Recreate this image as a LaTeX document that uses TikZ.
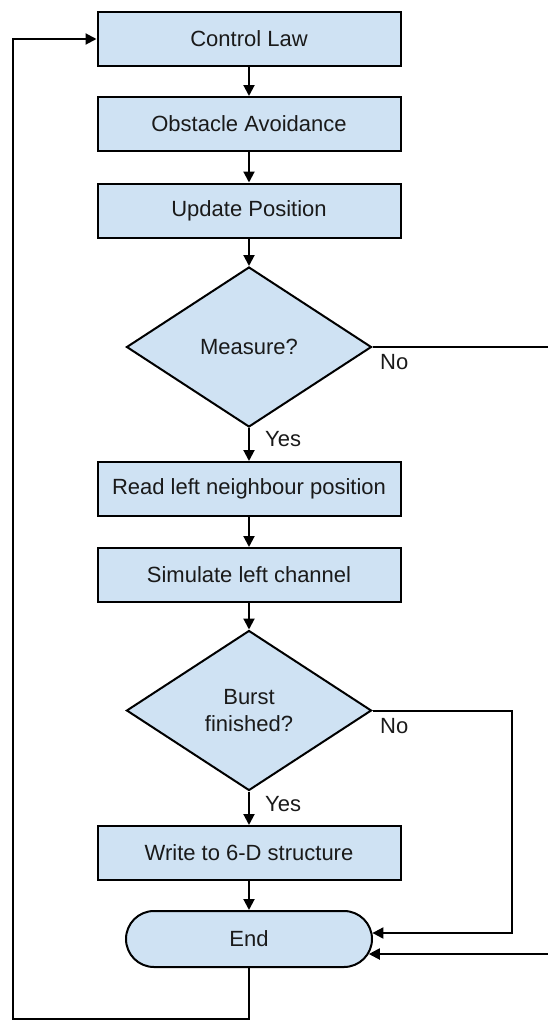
\documentclass[tikz,border=0pt]{standalone}
\usepackage{fontspec}
\setmainfont{Liberation Sans}
\usetikzlibrary{shapes.geometric,arrows.meta,calc}
\definecolor{boxfill}{HTML}{CFE2F3}
\definecolor{ink}{HTML}{1A1A1A}
\begin{document}
\begin{tikzpicture}[x=1pt,y=-1pt,
  font=\fontsize{22}{26.5}\selectfont,
  every node/.style={text=ink},
  stepbox/.style={draw, line width=2pt, fill=boxfill, minimum width=303pt, minimum height=54pt, inner sep=0pt},
  decision/.style={diamond, draw, line width=2pt, fill=boxfill, minimum width=245pt, minimum height=160pt, inner sep=0pt, align=center},
  terminal/.style={draw, line width=2pt, fill=boxfill, rounded corners=28pt, minimum width=246pt, minimum height=56pt, inner sep=0pt},
  flow/.style={line width=2pt, -{Triangle[length=11pt,width=11pt]}},
  link/.style={line width=2pt},
  lbl/.style={anchor=base west, inner sep=0pt}]
\useasboundingbox (0,0) rectangle (548,1021);

% process steps
\node[stepbox] (cl)    at (249,39)  {Control Law};
\node[stepbox] (oa)    at (249,124) {Obstacle Avoidance};
\node[stepbox] (up)    at (249,210.5) {Update Position};
\node[decision] (meas) at (249,347) {Measure?};
\node[stepbox] (rl)    at (249,489) {Read left neighbour position};
\node[stepbox] (sl)    at (249,575) {Simulate left channel};
\node[decision] (burst) at (249,710.5) {Burst\\finished?};
\node[stepbox] (w6)    at (249,853) {Write to 6-D structure};
\node[terminal] (end)  at (249,939) {End};

% branch labels
\node[lbl] (yes1) at (265,446) {Yes};
\node[lbl] (no1)  at (380,369) {No};
\node[lbl] (no2)  at (380,733) {No};
\node[lbl] (yes2) at (265,811) {Yes};

% routing points
\coordinate (mR)    at (548,347);
\coordinate (eR)    at (548,954);
\coordinate (bturn) at (512,710.5);
\coordinate (loopL) at (13,1019);

% main sequence
\draw[flow] (cl) -- (oa);
\draw[flow] (oa) -- (up);
\draw[flow] (up) -- (meas);
\draw[flow] (meas) -- (rl);
\draw[flow] (rl) -- (sl);
\draw[flow] (sl) -- (burst);
\draw[flow] (burst) -- (w6);
\draw[flow] (w6) -- (end);

% "No" branches
\draw[link] (meas.east) -- (mR);
\draw[flow] (eR) -- ([shift={(-4.2,15)}]end.east);
\draw[flow] (burst.east) -- (bturn) |- ([shift={(-0.6,-6)}]end.east);

% loop back to the start
\draw[flow] (end.south) |- (loopL) |- (cl.west);
\end{tikzpicture}
\end{document}
